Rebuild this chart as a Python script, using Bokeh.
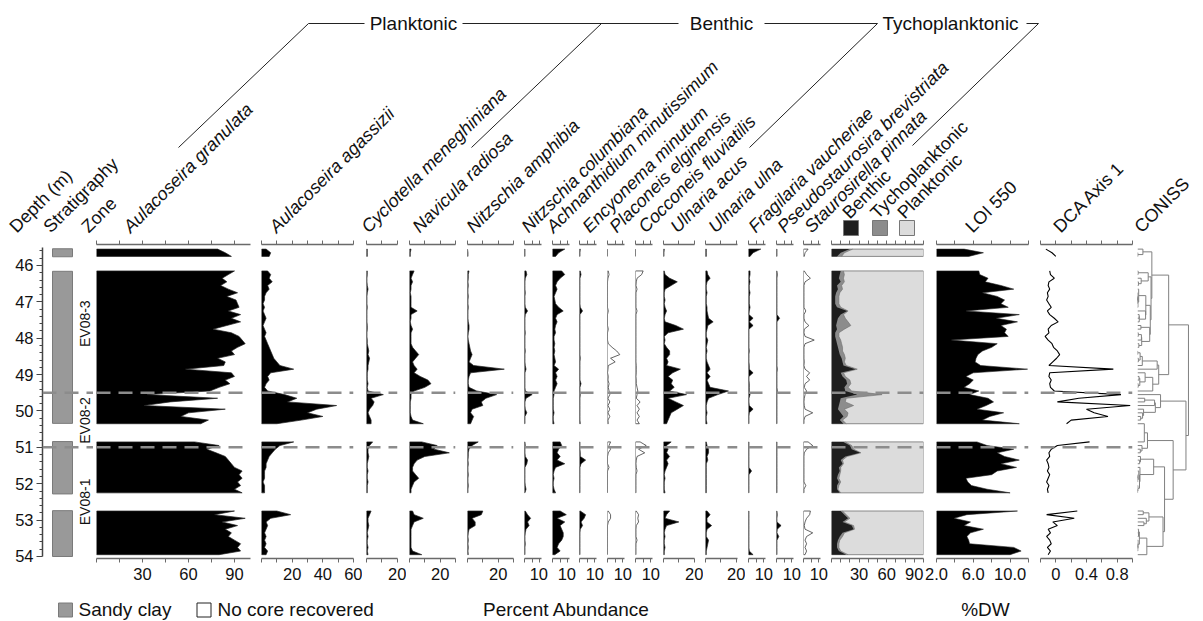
import numpy as np
from math import pi
from bokeh.plotting import figure
from bokeh.models import Range1d, LinearAxis, FixedTicker, Span, NumeralTickFormatter
from bokeh.layouts import row, column
from bokeh.core.properties import value
from bokeh.embed import file_html
from bokeh.resources import INLINE

# ---------------- data ----------------
depth_A = [45.55, 45.65, 45.75]
depth_B = [46.15, 46.25, 46.35, 46.45, 46.55, 46.65, 46.75, 46.85, 46.95, 47.05,
           47.15, 47.25, 47.35, 47.45, 47.55, 47.65, 47.75, 47.85, 47.95, 48.05,
           48.15, 48.25, 48.35, 48.45, 48.55, 48.65, 48.75, 48.85, 48.95, 49.05,
           49.15, 49.25, 49.35, 49.45, 49.55, 49.65, 49.75, 49.85, 49.95, 50.05,
           50.15, 50.25, 50.35]
depth_C = [50.85, 50.95, 51.05, 51.15, 51.25, 51.35, 51.45, 51.55, 51.65, 51.75,
           51.85, 51.95, 52.05, 52.15, 52.25]
depth_D = [52.75, 52.85, 52.95, 53.05, 53.15, 53.25, 53.35, 53.45, 53.55, 53.65,
           53.75, 53.85, 53.95]

gran = [79, 84, 88,
        90, 86, 82, 85, 81, 86, 92, 85, 91, 92, 93, 86, 94, 88, 94, 85, 76, 88, 93, 95,
        97, 92, 88, 90, 79, 84, 83, 58, 88, 90, 84, 87, 80, 74, 33, 79, 48, 31, 84, 60,
        55, 73, 68,
        64, 80, 72, 78, 84, 86, 88, 90, 95, 93, 95, 92, 94, 90, 95,
        90, 77, 97, 82, 92, 84, 88, 86, 90, 94, 92, 94, 80]
agass = [3, 6, 5,
         4, 6, 5, 7, 4, 5, 3, 2, 2, 1, 2, 1, 2, 3, 2, 1, 2, 3, 2, 3,
         4, 5, 6, 7, 8, 10, 12, 21, 6, 4, 5, 3, 2, 4, 15, 23, 17, 49, 36, 30,
         40, 26, 10,
         21, 12, 9, 7, 5, 4, 3, 3, 2, 2, 2, 1, 2, 2, 2,
         10, 19, 6, 3, 4, 3, 2, 3, 2, 3, 2, 4, 3]
cyclo = [0.5, 0.5, 0.5,
         0.5, 0.5, 0.3, 0.3, 0.5, 1, 0.5, 0.3, 0.3, 0.3, 0.5, 0.3, 0.3, 0.3, 0.3, 0.5, 0.5, 0.3, 0.3, 0.5,
         0.5, 1, 1.5, 1, 2, 1.5, 1, 1, 0.5, 0.5, 0.5, 1, 0.5, 1, 11, 3, 5, 4, 2, 1,
         2, 3, 3,
         4, 2, 1, 1, 1.5, 1, 0.5, 0.5, 1, 0.5, 0.5, 1, 0.5, 0.5, 0.5,
         3, 2, 1, 1, 1.5, 1, 0.5, 1, 0.5, 0.5, 1, 0.5, 1]
navic = [1, 0.5, 0.5,
         3, 2, 1, 2, 1, 1, 0.5, 1, 1, 1, 1, 5, 1, 1, 0.5, 1, 2, 1, 1, 1,
         1, 2, 4, 6, 4, 2, 3, 5, 3, 7, 12, 14, 10, 3, 1, 1, 0.5, 0.5, 0.5, 0.5,
         1, 2, 9,
         8, 18, 16, 26, 10, 5, 3, 2, 2, 4, 6, 3, 2, 1, 1,
         2, 3, 9, 3, 2, 1, 1, 1, 1, 1, 1, 2, 8]
amphib = [0, 0.3, 0.3,
          1, 0.5, 0.5, 0.3, 0.5, 0.3, 0.3, 0.5, 0.3, 0.3, 0.5, 0.3, 0.3, 0.3, 0.5, 1, 1, 0.5, 0.3, 0.5,
          1, 1.5, 2, 3, 2, 1, 4, 24, 2, 1, 0.5, 0.5, 1, 6, 19, 12, 9, 10, 3, 2,
          4, 3, 2,
          7, 3, 1, 0.5, 0.5, 0.3, 0.5, 0.3, 0.3, 0.5, 0.3, 0.3, 0.5, 0.3, 0.3,
          10, 9, 3, 5, 5, 1, 0.5, 0.3, 0.5, 0.3, 0.5, 0.3, 0.5]
columb = [0.3, 0.3, 0.3,
          1, 1.5, 0.5, 0.3, 0.3, 0.3, 0.5, 0.3, 0.3, 0.3, 0.5, 2, 0.5, 0.3, 0.3, 0.3, 0.3, 0.5, 0.3, 0.3,
          0.3, 0.3, 0.5, 0.3, 0.3, 0.3, 0.5, 1, 0.3, 0.3, 0.3, 0.3, 0.3, 0.5, 5, 1, 0.3, 0.3, 0.5, 1.5,
          0.3, 0.3, 0.3,
          0.3, 0.5, 0.3, 0.3, 0.5, 2, 1.5, 0.3, 0.3, 0.3, 0.3, 0.3, 0.5, 1, 0.3,
          0.5, 2, 4, 2, 3, 1, 0.5, 0.3, 0.3, 0.5, 0.3, 0.3, 0.3]
achnan = [8, 4, 2,
          6, 8, 5, 3, 2, 3, 2, 1, 1.5, 2, 4, 7, 3, 2, 3, 2, 1.5, 2, 1, 1,
          1.5, 1, 1.5, 1, 1.5, 2, 1, 4, 2, 3, 2, 3, 2, 1, 1, 0.5, 0.5, 0.5, 0.5, 1,
          0.5, 0.5, 1,
          5, 6, 4, 3, 5, 3, 8, 2, 1, 0.5, 1, 0.5, 0.5, 1, 2,
          5, 9, 3, 8, 5, 6, 7, 7, 6, 4, 3, 5, 1.5]
encyon = [0.5, 0.3, 0.3,
          0.5, 1, 0.3, 0.3, 0.3, 0.3, 0.3, 0.3, 0.3, 0.3, 0.5, 2, 0.3, 0.3, 0.3, 0.3, 0.3, 0.3, 0.3, 0.3,
          0.3, 0.3, 0.3, 0.3, 0.5, 0.3, 0.3, 0.3, 0.3, 0.3, 0.3, 1, 0.3, 0.3, 0.5, 0.3, 0.3, 0.3, 0.3, 0.3,
          0.3, 0.3, 0.5,
          0.3, 0.3, 0.3, 0.5, 0.5, 4, 1, 0.3, 0.3, 0.3, 0.3, 0.3, 0.3, 0.3, 0.3,
          0.5, 4, 3, 1, 2, 0.5, 0.3, 0.3, 0.3, 0.3, 0.3, 0.3, 0.3]
placon = [0, 0, 0,
          0.5, 1, 0.3, 0, 0, 0, 0, 0, 0, 0, 0, 0.5, 0, 0, 0, 0, 0.5, 0, 0, 0,
          0.5, 3, 6, 8, 2, 5, 0.5, 0.3, 0, 0.5, 0.3, 1, 0.5, 1, 1.5, 0.3, 1.5, 0.3, 1.5, 0.3,
          1.5, 0.3, 0.5,
          2, 1, 2, 0.5, 0, 0, 0, 1, 0, 0, 0, 0, 0, 0, 0,
          0.5, 2, 2, 0.5, 0, 0, 0, 0, 0, 0, 0, 0, 0]
coccon = [0, 0, 0,
          5, 4, 1, 0.5, 0.3, 1, 0.3, 0.3, 0.3, 0.3, 0.3, 1, 0.3, 0.3, 0.3, 0.3, 0.3, 0.3, 0.3, 0.3,
          0.3, 0.3, 0.3, 0.3, 0.3, 0.3, 0.5, 0.5, 0.5, 0.3, 0.5, 0.5, 1, 1.5, 1, 0.5, 3, 1, 2.5, 1,
          2.5, 1, 2.5,
          3, 7, 2, 6, 1, 0.5, 0.3, 0.5, 1, 0.3, 0.3, 0.3, 0.3, 0.3, 0.3,
          0.5, 2, 1.5, 2, 0.5, 0.3, 0.3, 0.3, 1, 0.3, 0.3, 0.3, 0.3]
acus = [0.5, 0.3, 0.3,
        0.5, 1, 4, 9, 5, 1, 0.5, 0.5, 1, 0.5, 1, 2, 1, 0.5, 1, 8, 13, 3, 0.5, 1,
        0.5, 2, 4, 4, 2, 3, 2, 11, 6, 3, 6, 5, 7, 4, 15, 3, 8, 13, 9, 5,
        4, 3, 2,
        5, 2, 3, 2, 4, 2, 3, 2, 1, 0.5, 1, 0.5, 0.5, 0.5, 1,
        4, 2, 1, 10, 2, 1, 0.5, 1, 0.5, 0.5, 1, 0.5, 0.5]
ulna = [0.5, 0.5, 0.5,
        1, 1.5, 3, 1, 0.5, 0.5, 1, 0.5, 0.5, 0.5, 1, 1, 1.5, 2, 5, 1.5, 1, 0.5, 0.5, 1.5,
        1, 0.5, 1, 0.5, 0.5, 1, 2, 3, 1, 3, 1, 2, 3, 15, 8, 2, 1, 0.5, 0.5, 1,
        0.5, 0.5, 1,
        0.5, 1, 2, 2, 1, 1.5, 0.5, 0.5, 0.5, 0.5, 0.5, 0.5, 0.5, 0.5, 0.5,
        1, 3, 1, 1, 4, 1, 0.5, 0.5, 2, 1.5, 1, 0.5, 0.5]
fragil = [8, 3, 1,
          1, 1, 0.5, 1, 0.5, 0.5, 1, 0.5, 0.5, 0.5, 1, 0.5, 0.3, 3, 0.5, 3, 0.3, 0.3, 0.3, 0.3,
          0.3, 0.3, 0.5, 0.3, 0.3, 0.3, 0.5, 0.5, 3, 0.3, 0.3, 0.5, 0.5, 0.5, 1, 0.3, 0.3, 0.5, 3, 0.5,
          0.3, 0.3, 0.3,
          0.3, 0.3, 0.3, 0.3, 0.3, 0.3, 0.3, 0.3, 2, 0.3, 0.3, 0.3, 0.3, 0.3, 0.3,
          0.3, 0.3, 0.3, 0.3, 0.3, 0.3, 0.3, 0.3, 0.3, 0.3, 0.3, 0.5, 3]
pseudo = [0.3, 0.3, 0.3,
          0.3, 0.5, 0.3, 0.3, 0.3, 0.3, 0.3, 0.3, 0.3, 0.3, 0.3, 0.3, 0.3, 2, 0.3, 0.3, 0.3, 0.3, 0.3, 0.3,
          0.3, 0.3, 0.3, 0.3, 0.3, 0.3, 0.3, 0.5, 0.3, 0.3, 0.3, 0.3, 0.3, 0.5, 0.3, 0.3, 0.3, 0.3, 0.3, 0.3,
          0.3, 0.3, 0.3,
          0.3, 0.3, 0.3, 0.3, 0.3, 0.3, 0.3, 0.3, 0.3, 0.3, 0.3, 0.3, 0.3, 0.3, 0.3,
          0.3, 0.5, 0.3, 0.3, 3, 0.5, 0.3, 1.5, 0.3, 0.3, 0.3, 0.3, 0.3]
stauros = [3, 1, 0.5,
           0.5, 2, 4.5, 1, 0.3, 0.3, 0.3, 0.3, 0.3, 0.3, 0.3, 1.5, 0.3, 0.3, 1, 3.5, 0.5, 0.3, 1, 7,
           1, 0.3, 0.3, 0.3, 0.3, 0.5, 0.3, 1, 4, 2, 4, 1, 0.5, 2, 1, 0.5, 0.3, 0.5, 1, 6,
           1, 0.3, 0.3,
           3, 6, 2, 0.5, 0.3, 0.3, 0.3, 0.3, 0.3, 0.3, 0.3, 0.3, 1.5, 0.3, 0.3,
           4.5, 4, 2, 1, 0.5, 1, 6, 2, 1, 2, 1, 2, 1]
benthic = [20, 10, 6,
           10, 9, 8, 10, 6, 7, 5, 4, 4, 4, 6, 17, 10, 7, 6, 5, 6, 4, 4, 5,
           6, 7, 8, 9, 11, 12, 13, 26, 10, 12, 16, 17, 14, 15, 28, 10, 9, 8, 7, 10,
           13, 9, 13,
           13, 20, 22, 31, 15, 10, 12, 8, 9, 7, 6, 8, 6, 6, 9,
           10, 14, 18, 12, 22, 24, 12, 9, 7, 6, 6, 8, 16]
tycho = [3, 4, 5,
         3, 5, 5, 4, 5, 5, 4, 4, 4, 4, 4, 1, 3, 8, 12, 16, 8, 4, 4, 5,
         5, 5, 4, 5, 4, 2, 3, 2, 3, 3, 4, 4, 4, 7, 27, 6, 6, 16, 7, 8,
         4, 3, 3,
         2, 2, 2, 1, 2, 2, 1, 2, 1, 2, 2, 2, 2, 1, 1,
         2, 2, 2, 2, 2, 1, 2, 3, 2, 2, 2, 2, 2]
loi = [5.0, 7.1, 5.5,
       6.6, 6.7, 7.6, 7.3, 9.0, 10.4, 7.0, 8.6, 9.4, 9.0, 9.8, 5.2, 11.0, 8.5, 10.8, 9.0, 9.6, 9.4, 9.8, 3.6,
       8.6, 8.0, 7.0, 6.5, 6.3, 6.2, 6.8, 11.9, 6.0, 5.2, 6.0, 5.6, 5.0, 6.6, 5.6, 7.6, 8.2, 7.4, 6.4, 9.3,
       7.8, 7.0, 11.0,
       6.4, 7.5, 10.4, 8.6, 9.4, 11.0, 9.0, 10.7, 8.6, 8.0, 5.2, 5.4, 5.8, 7.5, 10.0,
       10.8, 5.3, 3.9, 5.7, 5.0, 7.1, 5.7, 5.3, 5.5, 5.6, 10.4, 11.2, 10.0]
dca = [-0.13, -0.05, 0.0,
       -0.08, -0.07, -0.02, -0.09, -0.10, -0.08, -0.11, -0.10, -0.12, -0.09, -0.06, -0.11, -0.08, -0.02,
       0.03, -0.06, -0.10, -0.09, -0.14, -0.10, -0.05, -0.03, 0.02, 0.05, 0.01, -0.04, -0.09, 0.75,
       -0.08, -0.09, -0.06, -0.08, -0.07, -0.02, 0.85, 0.30, 0.02, 0.97, 0.40, 0.50, 0.68, 0.20, 0.14,
       0.44, 0.02, -0.06, -0.09, -0.08, -0.12, -0.10, -0.09, -0.11, -0.08, -0.10, -0.12, -0.09, -0.11, -0.10,
       0.28, -0.12, 0.24, -0.04, 0.02, -0.10, -0.07, -0.12, -0.08, -0.06, -0.11, -0.07, -0.10]

sand_top = [45.54, 46.16, 50.84, 52.74]
sand_bottom = [45.76, 50.34, 52.28, 54.0]
zone_bounds = [49.5, 51.0]
zone_names = ["EV08-3", "EV08-2", "EV08-1"]
zone_label_depth = [47.6, 50.26, 52.5]

species_names = ["Aulacoseira granulata", "Aulacoseira agassizii", "Cyclotella meneghiniana",
                 "Navicula radiosa", "Nitzschia amphibia", "Nitzschia columbiana",
                 "Achnanthidium minutissimum", "Encyonema minutum", "Placoneis elginensis",
                 "Cocconeis fluviatilis", "Ulnaria acus", "Ulnaria ulna", "Fragilaria vaucheriae",
                 "Pseudostaurosira brevistriata", "Staurosirella pinnata"]
group_names = ["Planktonic", "Benthic", "Tychoplanktonic"]
summary_names = ["Benthic", "Tychoplanktonic", "Planktonic"]
summary_colors = ["#1e1e1e", "#8c8c8c", "#dcdcdc"]

species = [gran, agass, cyclo, navic, amphib, columb, achnan, encyon, placon, coccon,
           acus, ulna, fragil, pseudo, stauros]

# ---------------- layout ----------------
FONT = "Liberation Sans"
AX = "#6a6a6a"
PXU = 1.533
FT, FH, FB = 8, 314, 36
HEAD_H, FOOT_H = 236, 27
Y_BOT, Y_TOP = 54.055, 45.423

depths = depth_A + depth_B + depth_C + depth_D
bounds = np.cumsum([0, len(depth_A), len(depth_B), len(depth_C), len(depth_D)])
segs = [(int(bounds[i]), int(bounds[i + 1])) for i in range(4)]


def base_fig(L, R, bl, br, xr):
    p = figure(frame_width=R - L, frame_height=FH, x_range=xr, y_range=Range1d(Y_BOT, Y_TOP),
               output_backend="svg", toolbar_location=None,
               x_axis_location=None, y_axis_location=None,
               min_border_left=bl, min_border_right=br, min_border_top=FT, min_border_bottom=FB,
               outline_line_color=None)
    p.grid.visible = False
    return p


def style_axis(ax):
    ax.axis_line_color = AX
    ax.axis_line_width = 1.5
    ax.major_tick_line_color = AX
    ax.minor_tick_line_color = AX
    ax.major_tick_in = 0
    ax.major_tick_out = 4
    ax.minor_tick_in = 0
    ax.minor_tick_out = 4
    ax.major_label_text_font = FONT
    ax.major_label_text_color = "#111111"
    ax.major_label_text_font_size = "16.5px"
    ax.major_label_standoff = 5


def add_axes(p, major, minor, fmt=None):
    # top axis: tick marks only (no labels)
    top = LinearAxis(ticker=FixedTicker(ticks=[], minor_ticks=sorted(major + minor)))
    style_axis(top)
    top.major_label_standoff = 0
    p.add_layout(top, "above")
    bot = LinearAxis(ticker=FixedTicker(ticks=major, minor_ticks=minor))
    style_axis(bot)
    if fmt:
        bot.formatter = NumeralTickFormatter(format=fmt)
    p.add_layout(bot, "below")


def add_zones(p):
    for z in zone_bounds:
        p.add_layout(Span(location=z, dimension="width", line_color="#8c8c8c",
                          line_width=2.5, line_dash="14 8"))


figs = []

# stratigraphy / depth / zone column
ps = base_fig(42, 93, 42, 0, Range1d(42, 93))
ps.quad(left=52, right=72, top=sand_top, bottom=sand_bottom,
        fill_color="#999999", line_color="#7a7a7a", line_width=1)
minor_depth = [round(45.6 + 0.2 * i, 1) for i in range(43)
               if 0.05 < (45.6 + 0.2 * i) % 1 < 0.95]
yax = LinearAxis(ticker=FixedTicker(ticks=[46, 47, 48, 49, 50, 51, 52, 53, 54], minor_ticks=minor_depth))
yax.bounds = (45.5, 54.0)
yax.axis_line_color = "#444444"
yax.axis_line_width = 1.5
yax.major_tick_line_color = "#444444"
yax.minor_tick_line_color = "#444444"
yax.major_tick_in = 0
yax.major_tick_out = 6
yax.minor_tick_in = 0
yax.minor_tick_out = 3
yax.major_label_text_font = FONT
yax.major_label_text_font_size = "16.5px"
yax.major_label_text_color = "#111111"
yax.major_label_standoff = 3
ps.add_layout(yax, "left")
ps.text(x=[84, 84, 84], y=zone_label_depth, text=zone_names, angle=pi / 2,
        text_align="center", text_baseline="middle", text_font=value(FONT),
        text_font_size="14px", text_color="#111111")
add_zones(ps)
figs.append(ps)

frames = [(96, 250), (261, 353), (366, 397), (409, 455), (467, 513), (524, 541), (552, 569),
          (579, 596), (607, 624), (635, 652), (663, 694), (705, 737), (748, 765), (776, 793),
          (803, 820)]
borders = [(3, 5), (6, 9), (4, 9), (3, 6), (6, 7), (4, 7), (4, 7), (3, 8), (3, 9), (2, 8),
           (3, 9), (2, 8), (3, 8), (3, 8), (2, 8)]
ticks = [([30, 60, 90], [0, 15, 45, 75]), ([20, 40, 60], [0, 10, 30, 50]), ([20], [0, 10]),
         ([20], [0, 10, 30]), ([20], [0, 10, 30]), ([10], [0, 5]), ([10], [0, 5]), ([10], [0, 5]),
         ([10], [0, 5]), ([10], [0, 5]), ([20], [0, 10]), ([20], [0, 10]), ([10], [0, 5]),
         ([10], [0, 5]), ([10], [0, 5])]
hollow = {8, 9, 14}

for i, vals in enumerate(species):
    L, R = frames[i]
    bl, br = borders[i]
    p = base_fig(L, R, bl, br, Range1d(0, (R - L) / PXU))
    for a, b in segs:
        d = depths[a:b]
        v = vals[a:b]
        p.patch([0] + v + [0], [d[0]] + d + [d[-1]],
                fill_color="white" if i in hollow else "black",
                line_color="#222222", line_width=0.7)
    add_axes(p, *ticks[i])
    add_zones(p)
    figs.append(p)

# summary panel
p = base_fig(831, 923, 3, 1, Range1d(0, 100))
for a, b in segs:
    d = depths[a:b]
    bt = [x + y for x, y in zip(benthic[a:b], tycho[a:b])]
    p.quad(left=0, right=100, top=d[0], bottom=d[-1], fill_color=summary_colors[2],
           line_color="#8a8a8a", line_width=1)
    p.harea(x1=0, x2=bt, y=d, fill_color=summary_colors[1])
    p.line(bt, d, line_color="#6e6e6e", line_width=0.6)
    p.harea(x1=0, x2=benthic[a:b], y=d, fill_color=summary_colors[0])
add_axes(p, [30, 60, 90], [0, 10, 20, 40, 50, 70, 80, 100])
add_zones(p)
figs.append(p)

# LOI
p = base_fig(936, 1028, 12, 6, Range1d(2, 12))
for a, b in segs:
    d = depths[a:b]
    v = loi[a:b]
    p.patch([2] + v + [2], [d[0]] + d + [d[-1]], fill_color="black", line_color="#222222",
            line_width=0.6)
add_axes(p, [2, 6, 10], [4, 8, 12], "0.0")
add_zones(p)
figs.append(p)

# DCA
p = base_fig(1040, 1132, 6, 2, Range1d(-0.2, 1.0))
for a, b in segs:
    p.line(dca[a:b], depths[a:b], line_color="black", line_width=1.1)
add_axes(p, [0, 0.4, 0.8], [-0.2, 0.2, 0.6, 1.0], "0.[0]")
add_zones(p)
figs.append(p)

# CONISS (constrained incremental sum of squares on sqrt-transformed percentages)
Xs = np.sqrt(np.array(species, dtype=float).T)
nodes = [{"y": d, "h": 0.0, "n": 1, "m": Xs[k]} for k, d in enumerate(depths)]
total = 0.0
dx, dy = [], []
while len(nodes) > 1:
    incs = [a["n"] * b["n"] / (a["n"] + b["n"]) * float(np.sum((a["m"] - b["m"]) ** 2))
            for a, b in zip(nodes[:-1], nodes[1:])]
    j = int(np.argmin(incs))
    a, b = nodes[j], nodes[j + 1]
    total += incs[j]
    dx.append([a["h"], total, total, b["h"]])
    dy.append([a["y"], a["y"], b["y"], b["y"]])
    nodes[j:j + 2] = [{"y": (a["y"] + b["y"]) / 2, "h": total, "n": a["n"] + b["n"],
                       "m": (a["m"] * a["n"] + b["m"] * b["n"]) / (a["n"] + b["n"])}]
p = base_fig(1137, 1190, 3, 13, Range1d(0, total * 1.04))
p.multi_line(dx, dy, line_color="#808080", line_width=1)
figs.append(p)

# ---------------- header ----------------
h = figure(width=1203, height=HEAD_H, x_range=Range1d(0, 1203), y_range=Range1d(HEAD_H, 0),
           x_axis_location=None, y_axis_location=None, min_border=0, outline_line_color=None,
           toolbar_location=None, output_backend="svg")
h.grid.visible = False

plain_labels = ["Depth (m)", "Stratigraphy", "Zone"]
plain_x = [12, 46, 84]
h.text(x=plain_x, y=[229] * 3, text=plain_labels, angle=pi / 4, text_align="left",
       text_baseline="alphabetic", text_font=value(FONT), text_font_size="18px",
       text_color="#111111")
species_label_x = [126, 272, 364, 415, 469, 524, 549, 585, 612, 641, 673, 711, 751, 780, 807]
h.text(x=species_label_x, y=[229] * len(species_names), text=species_names, angle=pi / 4,
       text_align="left", text_baseline="alphabetic", text_font=value(FONT),
       text_font_style="italic", text_font_size="18px", text_color="#111111")
h.text(x=[845, 873, 900], y=[215] * 3, text=summary_names, angle=pi / 4, text_align="left",
       text_baseline="alphabetic", text_font=value(FONT), text_font_size="18px",
       text_color="#111111")
h.text(x=[968, 1056, 1137], y=[229] * 3, text=["LOI 550", "DCA Axis 1", "CONISS"],
       angle=pi / 4, text_align="left", text_baseline="alphabetic", text_font=value(FONT),
       text_font_size="18px", text_color="#111111")
h.rect(x=[850.5, 879.5, 906.5], y=[227.5] * 3, width=15, height=15,
       fill_color=summary_colors, line_color="#777777", line_width=1)
# ecological group brackets
h.text(x=[413, 721, 950], y=[23] * 3, text=group_names, text_align="center",
       text_baseline="middle", text_font=value(FONT), text_font_size="19px",
       text_color="#111111")
h.segment(x0=[308, 462, 764, 1026], y0=[23] * 4, x1=[364, 678, 877, 1038], y1=[23] * 4,
          line_color="#222222", line_width=1)
h.segment(x0=[308, 601, 877, 1038], y0=[23] * 4, x1=[178, 471, 749, 912],
          y1=[147, 147, 147, 145], line_color="#222222", line_width=1)

# ---------------- footer ----------------
f = figure(width=1203, height=FOOT_H, x_range=Range1d(0, 1203), y_range=Range1d(FOOT_H, 0),
           x_axis_location=None, y_axis_location=None, min_border=0, outline_line_color=None,
           toolbar_location=None, output_backend="svg")
f.grid.visible = False
f.rect(x=[65, 203.5], y=[15.5, 15.5], width=14, height=14, fill_color=["#999999", "white"],
       line_color=["#7a7a7a", "#222222"], line_width=1)
f.text(x=[78, 217], y=[15, 15], text=["Sandy clay", "No core recovered"], text_align="left",
       text_baseline="middle", text_font=value(FONT), text_font_size="19px",
       text_color="#111111")
f.text(x=[566, 985], y=[15, 15], text=["Percent Abundance", "%DW"], text_align="center",
       text_baseline="middle", text_font=value(FONT), text_font_size="19px",
       text_color="#111111")

layout = column(h, row(*figs, spacing=0), f, spacing=0)
open("out.html", "w").write(file_html(layout, INLINE))
